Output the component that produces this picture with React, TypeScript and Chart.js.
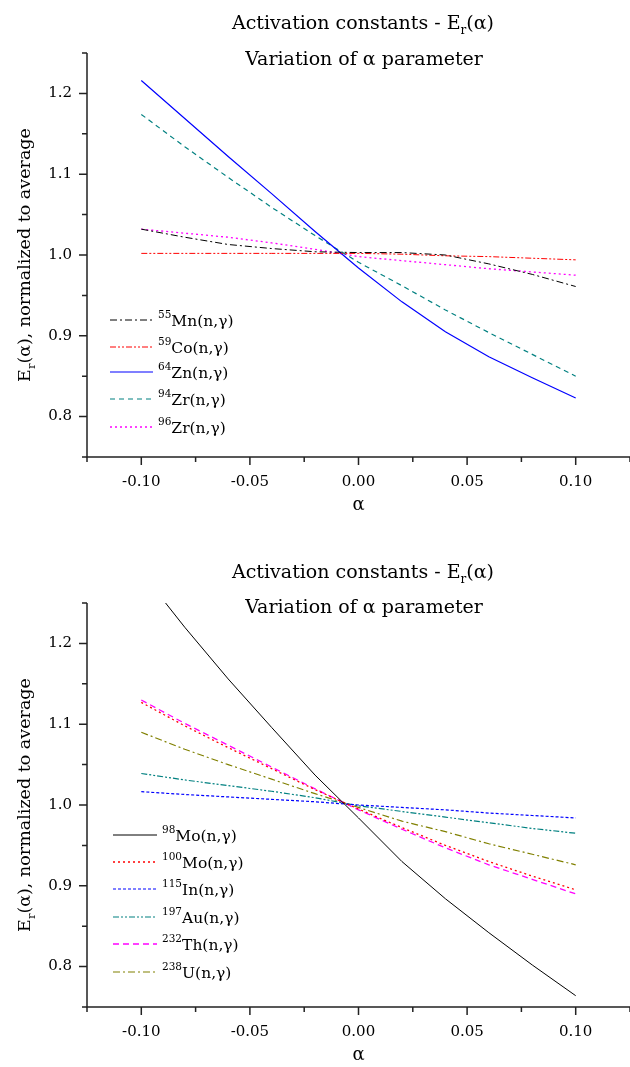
import React, { useEffect, useRef } from 'react';
import { Chart, registerables } from 'chart.js';
Chart.register(...registerables);

const FAMILY = '"DejaVu Serif", serif';

// alpha grid
const alpha = [-0.10, -0.08, -0.06, -0.04, -0.02, 0.0, 0.02, 0.04, 0.06, 0.08, 0.10];

// top panel series
const mn55 = [1.032, 1.022, 1.013, 1.008, 1.004, 1.003, 1.003, 1.0, 0.989, 0.976, 0.961];
const co59 = [1.002, 1.002, 1.002, 1.002, 1.002, 1.002, 1.001, 0.999, 0.998, 0.996, 0.994];
const zn64 = [1.216, 1.169, 1.122, 1.076, 1.029, 0.984, 0.942, 0.905, 0.874, 0.848, 0.823];
const zr94 = [1.174, 1.134, 1.096, 1.059, 1.024, 0.991, 0.962, 0.932, 0.904, 0.877, 0.85];
const zr96 = [1.032, 1.027, 1.022, 1.015, 1.007, 0.998, 0.993, 0.988, 0.983, 0.979, 0.975];

// bottom panel series
const mo98 = [1.288, 1.22, 1.156, 1.096, 1.037, 0.984, 0.93, 0.884, 0.842, 0.802, 0.764];
const mo100 = [1.127, 1.098, 1.071, 1.045, 1.019, 0.995, 0.972, 0.95, 0.93, 0.912, 0.895];
const in115 = [1.0165, 1.013, 1.01, 1.007, 1.004, 1.0, 0.997, 0.994, 0.99, 0.987, 0.984];
const au197 = [1.039, 1.031, 1.024, 1.017, 1.009, 0.999, 0.992, 0.985, 0.978, 0.971, 0.965];
const th232 = [1.13, 1.101, 1.074, 1.047, 1.02, 0.994, 0.97, 0.947, 0.926, 0.908, 0.89];
const u238 = [1.09, 1.069, 1.05, 1.032, 1.014, 0.997, 0.98, 0.967, 0.952, 0.939, 0.926];

// ticks
const xTickValues = [-0.125, -0.1, -0.075, -0.05, -0.025, 0, 0.025, 0.05, 0.075, 0.1, 0.125];
const xMajorValues = [-0.1, -0.05, 0, 0.05, 0.1];
const xTickLabels = ['-0.10', '-0.05', '0.00', '0.05', '0.10'];
const yTickValues = [0.75, 0.8, 0.85, 0.9, 0.95, 1.0, 1.05, 1.1, 1.15, 1.2, 1.25];
const yMajorValues = [0.8, 0.9, 1.0, 1.1, 1.2];
const yTickLabels = ['0.8', '0.9', '1.0', '1.1', '1.2'];

// legend labels
const topIsotopes = ['55', '59', '64', '94', '96'];
const topNames = ['Mn(n,γ)', 'Co(n,γ)', 'Zn(n,γ)', 'Zr(n,γ)', 'Zr(n,γ)'];
const botIsotopes = ['98', '100', '115', '197', '232', '238'];
const botNames = ['Mo(n,γ)', 'Mo(n,γ)', 'In(n,γ)', 'Au(n,γ)', 'Th(n,γ)', 'U(n,γ)'];

const titleLine1 = ['Activation constants - E', 'r', '(α)'];
const titleLine2 = 'Variation of α parameter';
const yTitle = ['E', 'r', '(α), normalized to average'];
const xTitle = 'α';

type Series = { sup: string; name: string; values: number[]; color: string; dash: number[]; width: number };
type PanelCfg = {
  top: number; height: number; areaTop: number; areaBottom: number;
  title1Y: number; title2Y: number; xTitleY: number; legendY: number[];
  legendX: number[]; series: Series[];
};

const topSeries: Series[] = [
  { sup: topIsotopes[0], name: topNames[0], values: mn55, color: '#000000', dash: [7, 3, 2, 3], width: 1 },
  { sup: topIsotopes[1], name: topNames[1], values: co59, color: '#ff0000', dash: [6, 2, 2, 2, 2, 2], width: 1 },
  { sup: topIsotopes[2], name: topNames[2], values: zn64, color: '#0000ff', dash: [], width: 1.2 },
  { sup: topIsotopes[3], name: topNames[3], values: zr94, color: '#008080', dash: [5, 4], width: 1.2 },
  { sup: topIsotopes[4], name: topNames[4], values: zr96, color: '#ff00ff', dash: [2, 3], width: 1.3 },
];
const botSeries: Series[] = [
  { sup: botIsotopes[0], name: botNames[0], values: mo98, color: '#000000', dash: [], width: 1 },
  { sup: botIsotopes[1], name: botNames[1], values: mo100, color: '#ff0000', dash: [2, 3], width: 1.3 },
  { sup: botIsotopes[2], name: botNames[2], values: in115, color: '#0000ff', dash: [3, 2], width: 1.2 },
  { sup: botIsotopes[3], name: botNames[3], values: au197, color: '#008080', dash: [6, 2, 2, 2, 2, 2], width: 1.2 },
  { sup: botIsotopes[4], name: botNames[4], values: th232, color: '#ff00ff', dash: [6, 4], width: 1.3 },
  { sup: botIsotopes[5], name: botNames[5], values: u238, color: '#808000', dash: [7, 3, 2, 3], width: 1.2 },
];

const panel1: PanelCfg = {
  top: 0, height: 533, areaTop: 53, areaBottom: 457,
  title1Y: 22, title2Y: 58, xTitleY: 505, legendY: [320, 347, 372, 399, 427],
  legendX: [110, 153, 158], series: topSeries,
};
const panel2: PanelCfg = {
  top: 533, height: 534, areaTop: 70, areaBottom: 474,
  title1Y: 38, title2Y: 73, xTitleY: 522, legendY: [302, 329, 356, 384, 411, 439],
  legendX: [113, 157, 162], series: botSeries,
};

type Part = { t: string; size: number; dy?: number };

function drawRich(ctx: CanvasRenderingContext2D, parts: Part[], x: number, y: number, align: 'left' | 'center') {
  ctx.textBaseline = 'alphabetic';
  ctx.textAlign = 'left';
  let w = 0;
  for (const p of parts) {
    ctx.font = `${p.size}px ${FAMILY}`;
    w += ctx.measureText(p.t).width;
  }
  let cx = align === 'center' ? x - w / 2 : x;
  for (const p of parts) {
    ctx.font = `${p.size}px ${FAMILY}`;
    ctx.fillText(p.t, cx, y + (p.dy || 0));
    cx += ctx.measureText(p.t).width;
  }
}

function labelFor(v: number, majors: number[], labels: string[]) {
  const i = majors.findIndex((m) => Math.abs(m - v) < 1e-9);
  return i >= 0 ? labels[i] : '';
}

function isMajor(v: number, majors: number[]) {
  return majors.some((m) => Math.abs(m - v) < 1e-9);
}

function Panel({ cfg }: { cfg: PanelCfg }) {
  const ref = useRef<HTMLCanvasElement>(null);
  useEffect(() => {
    const canvas = ref.current!;
    const overlay = {
      id: 'overlay',
      afterDraw(chart: any) {
        const ctx: CanvasRenderingContext2D = chart.ctx;
        const xs = chart.scales.x;
        const ys = chart.scales.y;
        const area = chart.chartArea;
        ctx.save();
        // axes
        ctx.strokeStyle = '#222';
        ctx.lineWidth = 1.5;
        ctx.setLineDash([]);
        ctx.beginPath();
        ctx.moveTo(area.left, area.top);
        ctx.lineTo(area.left, area.bottom);
        ctx.lineTo(area.right, area.bottom);
        ctx.stroke();
        ctx.beginPath();
        for (const t of xs.ticks) {
          const px = xs.getPixelForValue(t.value);
          const len = isMajor(t.value, xMajorValues) ? 8 : 5;
          ctx.moveTo(px, area.bottom);
          ctx.lineTo(px, area.bottom + len);
        }
        for (const t of ys.ticks) {
          const py = ys.getPixelForValue(t.value);
          const len = isMajor(t.value, yMajorValues) ? 8 : 5;
          ctx.moveTo(area.left, py);
          ctx.lineTo(area.left - len, py);
        }
        ctx.stroke();

        ctx.fillStyle = '#000';
        // titles
        drawRich(ctx, [
          { t: titleLine1[0], size: 19 },
          { t: titleLine1[1], size: 12, dy: 5 },
          { t: titleLine1[2], size: 19 },
        ], 363, cfg.title1Y + 7, 'center');
        drawRich(ctx, [{ t: titleLine2, size: 19 }], 364, cfg.title2Y + 7, 'center');
        // x title under the 0.00 tick
        drawRich(ctx, [{ t: xTitle, size: 18 }], xs.getPixelForValue(0), cfg.xTitleY + 5, 'center');
        // y title
        ctx.save();
        ctx.translate(30, (area.top + area.bottom) / 2);
        ctx.rotate(-Math.PI / 2);
        drawRich(ctx, [
          { t: yTitle[0], size: 17.5 },
          { t: yTitle[1], size: 11.5, dy: 5 },
          { t: yTitle[2], size: 17.5 },
        ], 0, 0, 'center');
        ctx.restore();

        // legend
        const [lx1, lx2, tx] = cfg.legendX;
        cfg.series.forEach((s, i) => {
          const y = cfg.legendY[i];
          ctx.strokeStyle = s.color;
          ctx.lineWidth = s.width;
          ctx.setLineDash(s.dash);
          ctx.beginPath();
          ctx.moveTo(lx1, y);
          ctx.lineTo(lx2, y);
          ctx.stroke();
          ctx.setLineDash([]);
          ctx.fillStyle = '#000';
          drawRich(ctx, [
            { t: s.sup, size: 10.5, dy: -8 },
            { t: s.name, size: 15.5 },
          ], tx, y + 6, 'left');
        });
        ctx.restore();
      },
    };
    const tickFont = { family: FAMILY, size: 15 };
    const chart = new Chart(canvas, {
      type: 'line',
      data: {
        datasets: cfg.series.map((s) => ({
          label: s.sup + s.name,
          data: alpha.map((a, i) => ({ x: a, y: s.values[i] })),
          borderColor: s.color,
          backgroundColor: s.color,
          borderDash: s.dash,
          borderWidth: s.width,
          pointRadius: 0,
          tension: 0,
          fill: false,
        })),
      },
      options: {
        responsive: false,
        animation: false,
        events: [],
        layout: { padding: { top: cfg.areaTop, left: 0, right: 0, bottom: 0 } },
        plugins: { legend: { display: false }, title: { display: false }, tooltip: { enabled: false } },
        scales: {
          x: {
            type: 'linear',
            min: -0.125,
            max: 0.125,
            afterBuildTicks: (s: any) => { s.ticks = xTickValues.map((v) => ({ value: v })); },
            afterFit: (s: any) => {
              s.height = cfg.height - cfg.areaBottom;
              s.paddingLeft = 0; s.paddingRight = 0;
            },
            grid: { display: false, drawTicks: false },
            border: { display: false },
            ticks: {
              autoSkip: false, maxRotation: 0, minRotation: 0, padding: 16, color: '#000', font: tickFont,
              callback: (v: any) => labelFor(Number(v), xMajorValues, xTickLabels),
            },
          },
          y: {
            type: 'linear',
            min: 0.75,
            max: 1.25,
            afterBuildTicks: (s: any) => { s.ticks = yTickValues.map((v) => ({ value: v })); },
            afterFit: (s: any) => {
              s.width = 87;
              s.paddingTop = 0; s.paddingBottom = 0;
            },
            grid: { display: false, drawTicks: false },
            border: { display: false },
            ticks: {
              autoSkip: false, padding: 15, color: '#000', font: tickFont,
              callback: (v: any) => labelFor(Number(v), yMajorValues, yTickLabels),
            },
          },
        },
      } as any,
      plugins: [overlay],
    });
    return () => chart.destroy();
  }, [cfg]);
  return (
    <canvas
      ref={ref}
      width={630}
      height={cfg.height}
      style={{ position: 'absolute', left: 0, top: cfg.top, display: 'block' }}
    />
  );
}

export default function App() {
  return (
    <div style={{ position: 'absolute', left: 0, top: 0, width: 630, height: 1067, overflow: 'hidden', background: '#fff' }}>
      <Panel cfg={panel1} />
      <Panel cfg={panel2} />
    </div>
  );
}
